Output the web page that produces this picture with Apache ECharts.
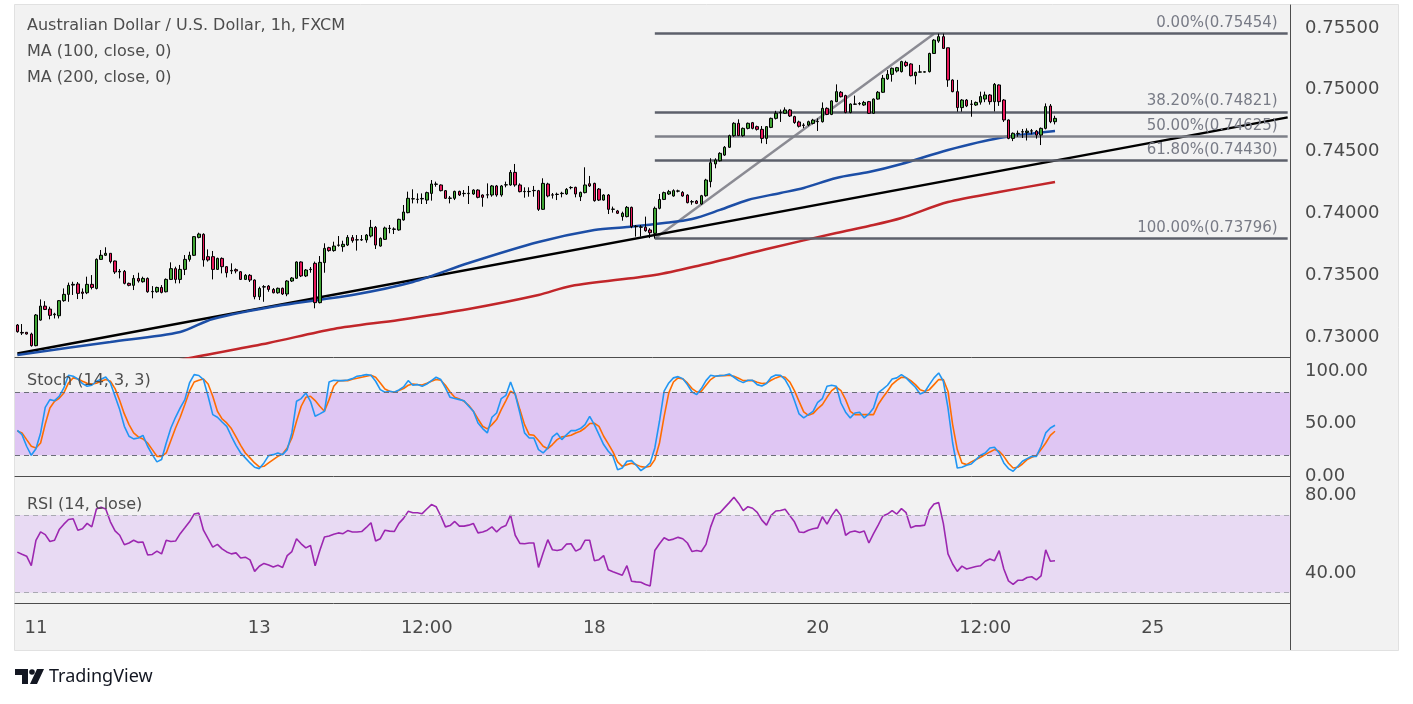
<!DOCTYPE html>
<html>
<head>
<meta charset="utf-8">
<script src="https://cdn.jsdelivr.net/npm/echarts@6/dist/echarts.min.js"></script>
<style>
  html, body { margin: 0; padding: 0; background: #fff; }
  #chart { width: 1413px; height: 704px; }
</style>
</head>
<body>
<div id="chart"></div>
<script>
// AUD/USD 1h candles, [open, close, low, high], one per hour slot
var candles = [
  [0.73097,0.73043,0.73035,0.73105],[0.73037,0.73032,0.73016,0.73105],[0.73038,0.73024,0.73020,0.73040],[0.73024,0.72930,0.72922,0.73035],
  [0.72930,0.73178,0.72925,0.73186],[0.73137,0.73250,0.73132,0.73304],[0.73250,0.73223,0.73218,0.73290],[0.73226,0.73175,0.73143,0.73245],
  [0.73180,0.73185,0.73150,0.73196],[0.73172,0.73294,0.73150,0.73299],[0.73294,0.73345,0.73285,0.73393],[0.73345,0.73418,0.73285,0.73440],
  [0.73420,0.73426,0.73340,0.73447],[0.73429,0.73353,0.73307,0.73445],[0.73364,0.73353,0.73307,0.73393],[0.73358,0.73426,0.73347,0.73488],
  [0.73426,0.73401,0.73385,0.73501],[0.73393,0.73628,0.73385,0.73636],[0.73628,0.73661,0.73623,0.73704],[0.73661,0.73677,0.73655,0.73726],
  [0.73677,0.73610,0.73596,0.73677],[0.73615,0.73526,0.73510,0.73618],[0.73526,0.73531,0.73474,0.73550],[0.73531,0.73434,0.73426,0.73542],
  [0.73434,0.73418,0.73410,0.73440],[0.73418,0.73474,0.73380,0.73501],[0.73474,0.73453,0.73440,0.73520],[0.73447,0.73474,0.73440,0.73488],
  [0.73474,0.73366,0.73358,0.73482],[0.73366,0.73369,0.73313,0.73412],[0.73366,0.73401,0.73358,0.73407],[0.73401,0.73361,0.73353,0.73420],
  [0.73366,0.73466,0.73361,0.73474],[0.73466,0.73553,0.73461,0.73604],[0.73553,0.73466,0.73434,0.73569],[0.73466,0.73547,0.73434,0.73583],
  [0.73547,0.73628,0.73501,0.73663],[0.73628,0.73661,0.73610,0.73690],[0.73661,0.73812,0.73655,0.73817],[0.73806,0.73833,0.73798,0.73844],
  [0.73831,0.73623,0.73569,0.73839],[0.73650,0.73623,0.73610,0.73709],[0.73650,0.73547,0.73466,0.73696],[0.73547,0.73636,0.73542,0.73642],
  [0.73636,0.73569,0.73515,0.73644],[0.73569,0.73520,0.73482,0.73574],[0.73534,0.73539,0.73509,0.73596],[0.73545,0.73534,0.73515,0.73555],
  [0.73528,0.73466,0.73461,0.73534],[0.73466,0.73499,0.73461,0.73509],[0.73499,0.73461,0.73445,0.73509],[0.73461,0.73326,0.73305,0.73466],
  [0.73326,0.73393,0.73299,0.73407],[0.73404,0.73407,0.73285,0.73420],[0.73412,0.73385,0.73366,0.73420],[0.73385,0.73358,0.73353,0.73396],
  [0.73358,0.73394,0.73350,0.73400],[0.73394,0.73348,0.73340,0.73400],[0.73348,0.73453,0.73330,0.73460],[0.73453,0.73477,0.73445,0.73485],
  [0.73475,0.73607,0.73470,0.73612],[0.73607,0.73494,0.73485,0.73612],[0.73494,0.73542,0.73485,0.73550],[0.73545,0.73548,0.73520,0.73566],
  [0.73596,0.73278,0.73232,0.73610],[0.73278,0.73604,0.73272,0.73655],[0.73602,0.73717,0.73520,0.73758],[0.73723,0.73699,0.73690,0.73730],
  [0.73699,0.73736,0.73690,0.73771],[0.73742,0.73744,0.73731,0.73817],[0.73731,0.73750,0.73690,0.73779],[0.73744,0.73806,0.73736,0.73825],
  [0.73804,0.73779,0.73763,0.73825],[0.73785,0.73787,0.73699,0.73825],[0.73785,0.73788,0.73777,0.73825],[0.73785,0.73825,0.73763,0.73833],
  [0.73817,0.73887,0.73806,0.73947],[0.73887,0.73744,0.73712,0.73898],[0.73736,0.73798,0.73731,0.73806],[0.73790,0.73882,0.73785,0.73893],
  [0.73878,0.73880,0.73839,0.73906],[0.73871,0.73874,0.73833,0.73887],[0.73866,0.73952,0.73860,0.73957],[0.73947,0.74011,0.73941,0.74068],
  [0.74006,0.74122,0.74001,0.74176],[0.74117,0.74119,0.74081,0.74195],[0.74113,0.74115,0.74081,0.74162],[0.74117,0.74121,0.74076,0.74162],
  [0.74108,0.74168,0.74076,0.74176],[0.74162,0.74238,0.74103,0.74270],[0.74235,0.74238,0.74216,0.74257],[0.74230,0.74184,0.74178,0.74235],
  [0.74184,0.74122,0.74117,0.74189],[0.74122,0.74124,0.74081,0.74141],[0.74122,0.74178,0.74108,0.74184],[0.74178,0.74149,0.74141,0.74184],
  [0.74160,0.74162,0.74135,0.74189],[0.74160,0.74163,0.74076,0.74222],[0.74157,0.74189,0.74150,0.74195],[0.74189,0.74130,0.74122,0.74195],
  [0.74149,0.74130,0.74054,0.74154],[0.74149,0.74151,0.74122,0.74243],[0.74149,0.74222,0.74135,0.74230],[0.74222,0.74149,0.74135,0.74230],
  [0.74149,0.74222,0.74135,0.74230],[0.74230,0.74232,0.74211,0.74257],[0.74230,0.74332,0.74224,0.74351],[0.74332,0.74230,0.74216,0.74400],
  [0.74230,0.74176,0.74170,0.74243],[0.74176,0.74178,0.74127,0.74211],[0.74176,0.74178,0.74135,0.74211],[0.74184,0.74186,0.74135,0.74222],
  [0.74184,0.74033,0.74020,0.74190],[0.74033,0.74243,0.74028,0.74284],[0.74238,0.74141,0.74130,0.74248],[0.74150,0.74148,0.74120,0.74165],
  [0.74155,0.74153,0.74108,0.74168],[0.74160,0.74163,0.74130,0.74175],[0.74157,0.74195,0.74150,0.74205],[0.74208,0.74210,0.74195,0.74220],
  [0.74211,0.74157,0.74130,0.74216],[0.74135,0.74170,0.74100,0.74176],[0.74168,0.74230,0.74162,0.74373],[0.74240,0.74222,0.74214,0.74303],
  [0.74243,0.74103,0.74095,0.74248],[0.74197,0.74108,0.74100,0.74205],[0.74108,0.74149,0.74103,0.74155],[0.74149,0.74033,0.73995,0.74157],
  [0.74033,0.74035,0.74006,0.74055],[0.74020,0.74001,0.73995,0.74028],[0.73974,0.74001,0.73941,0.74014],[0.73974,0.74049,0.73968,0.74060],
  [0.74049,0.73893,0.73880,0.74055],[0.73893,0.73896,0.73812,0.73906],[0.73888,0.73890,0.73812,0.73906],[0.73888,0.73860,0.73852,0.73974],
  [0.73866,0.73844,0.73800,0.73880],[0.73839,0.74041,0.73796,0.74055],[0.74041,0.74113,0.74033,0.74157],[0.74113,0.74168,0.74108,0.74176],
  [0.74157,0.74176,0.74150,0.74190],[0.74141,0.74184,0.74135,0.74195],[0.74180,0.74182,0.74170,0.74192],[0.74170,0.74141,0.74135,0.74180],
  [0.74148,0.74087,0.74081,0.74155],[0.74093,0.74095,0.74070,0.74108],[0.74100,0.74081,0.74075,0.74108],[0.74076,0.74143,0.74070,0.74150],
  [0.74143,0.74270,0.74135,0.74280],[0.74257,0.74410,0.74211,0.74446],[0.74400,0.74432,0.74365,0.74446],[0.74426,0.74486,0.74420,0.74495],
  [0.74472,0.74535,0.74465,0.74545],[0.74535,0.74629,0.74530,0.74637],[0.74629,0.74729,0.74620,0.74738],[0.74729,0.74629,0.74626,0.74761],
  [0.74629,0.74688,0.74620,0.74695],[0.74688,0.74729,0.74680,0.74735],[0.74734,0.74688,0.74680,0.74740],[0.74702,0.74680,0.74670,0.74710],
  [0.74680,0.74607,0.74567,0.74707],[0.74607,0.74702,0.74561,0.74707],[0.74696,0.74769,0.74690,0.74775],[0.74769,0.74810,0.74760,0.74830],
  [0.74815,0.74818,0.74740,0.74840],[0.74810,0.74837,0.74805,0.74858],[0.74837,0.74788,0.74780,0.74845],[0.74783,0.74735,0.74725,0.74790],
  [0.74740,0.74705,0.74695,0.74750],[0.74715,0.74712,0.74690,0.74730],[0.74715,0.74742,0.74705,0.74750],[0.74728,0.74755,0.74720,0.74765],
  [0.74742,0.74745,0.74667,0.74769],[0.74742,0.74850,0.74735,0.74898],[0.74850,0.74801,0.74795,0.74858],[0.74801,0.74910,0.74795,0.74915],
  [0.74904,0.74985,0.74900,0.75044],[0.74980,0.74944,0.74938,0.74990],[0.74953,0.74817,0.74810,0.74960],[0.74817,0.74885,0.74810,0.74890],
  [0.74883,0.74885,0.74877,0.74953],[0.74887,0.74889,0.74875,0.74900],[0.74877,0.74898,0.74870,0.74910],[0.74904,0.74810,0.74805,0.74910],
  [0.74810,0.74925,0.74805,0.74930],[0.74925,0.74980,0.74920,0.74990],[0.74980,0.75093,0.74975,0.75120],[0.75088,0.75125,0.75080,0.75160],
  [0.75125,0.75174,0.75066,0.75180],[0.75152,0.75179,0.75140,0.75185],[0.75147,0.75228,0.75140,0.75235],[0.75222,0.75195,0.75185,0.75235],
  [0.75209,0.75114,0.75108,0.75215],[0.75114,0.75141,0.75044,0.75147],[0.75143,0.75145,0.75140,0.75201],[0.75143,0.75146,0.75140,0.75150],
  [0.75147,0.75294,0.75140,0.75300],[0.75294,0.75402,0.75290,0.75410],[0.75394,0.75430,0.75380,0.75454],[0.75430,0.75335,0.75330,0.75454],
  [0.75340,0.75079,0.75024,0.75340],[0.75079,0.74985,0.74980,0.75085],[0.74985,0.74856,0.74823,0.75080],[0.74856,0.74917,0.74823,0.74925],
  [0.74917,0.74870,0.74860,0.74925],[0.74884,0.74882,0.74782,0.74917],[0.74877,0.74898,0.74870,0.74905],[0.74900,0.74945,0.74880,0.74985],
  [0.74925,0.74958,0.74900,0.74985],[0.74958,0.74904,0.74880,0.74965],[0.74904,0.75044,0.74825,0.75055],[0.75039,0.74904,0.74870,0.75044],
  [0.74917,0.74756,0.74740,0.74925],[0.74756,0.74607,0.74600,0.74760],[0.74607,0.74648,0.74585,0.74655],[0.74645,0.74648,0.74620,0.74670],
  [0.74658,0.74661,0.74610,0.74683],[0.74655,0.74666,0.74590,0.74688],[0.74666,0.74668,0.74640,0.74683],[0.74666,0.74634,0.74605,0.74675],
  [0.74634,0.74688,0.74553,0.74695],[0.74688,0.74864,0.74680,0.74890],[0.74869,0.74742,0.74730,0.74885],[0.74742,0.74769,0.74720,0.74790]
];

// MA (100) and MA (200) read at points along the curves
var ma100Idx = [0, 20, 35, 42, 57, 72, 85, 97, 112, 124, 131, 139, 145, 151, 157, 164, 169, 176, 183, 190, 200, 211, 223];
var ma100Val = [0.72855, 0.72960, 0.73041, 0.73146, 0.73259, 0.73340, 0.73445, 0.73599, 0.73769, 0.73866, 0.73890, 0.73922,
                0.73955, 0.74028, 0.74109, 0.74165, 0.74206, 0.74287, 0.74335, 0.74400, 0.74513, 0.74610, 0.74667];
var ma200Idx = [30, 36, 54, 68, 82, 97, 112, 119, 137, 147, 162, 176, 183, 190, 200, 211, 223];
var ma200Val = [0.72766, 0.72822, 0.72952, 0.73065, 0.73138, 0.73227, 0.73340, 0.73413, 0.73502, 0.73583, 0.73720,
                0.73842, 0.73898, 0.73963, 0.74092, 0.74173, 0.74254];

// drawn trend line and fib retracement
var trendIdx = [0, 273];
var trendVal = [0.72867, 0.74777];
var fibIdx = [137, 197];
var fibVal = [0.73796, 0.75454];
var fibPct = ['0.00%', '38.20%', '50.00%', '61.80%', '100.00%'];
var fibLevels = [0.75454, 0.74821, 0.74625, 0.74430, 0.73796];

// Stoch (14, 3, 3)
var stochK = [
  43.8,39.7,28.6,20,26.3,41.3,65.7,73,72,76.2, 84.1,96.2,95.2,92.7,88.3,85.7,86.7,90.5,92.4,94.6,
  88.9,76.2,63.5,47.6,38.1,35.6,36.5,39,28.6,20.6, 13.7,15.9,31.7,46,56.2,65.1,73,88.9,96.8,96,
  92.1,76.2,58.7,56.2,51.7,47.6,38.1,29.5,22.2,17.5, 12.7,8.6,7.3,12.7,19.7,20.6,22.2,20.6,25.4,41.3,
  71.4,74,79.4,71.4,57.1,59.4,61.9,89.8,91.4,91.1, 91.1,91.7,93,95.2,95.9,96.8,96.2,90.5,82.5,80,
  81,80,82.2,85.1,91.1,86.7,87.3,85.7,87.9,91.1, 94.3,92.1,84.1,75.2,74,73,72,66.7,61.9,50.8,
  45.4,41.3,56.2,60.3,74,77.1,89.8,77.8,60.3,41.3, 36.5,36.5,25.4,22.2,27,37.5,41,34.9,39.4,43.5,
  43.5,45.4,49.2,57.1,49.2,39.7,30.2,23.8,19,6.3, 7.9,14.3,14.9,10.5,5.4,8.6,12.7,27,52.4,81,
  88.9,93.7,94.9,93,87.3,80.3,77.8,83.5,91.1,96.2, 95.2,95.9,96.2,97.5,94.3,91.1,89.2,91.4,91.4,87.3,
  86,88.3,94.3,96.5,96.2,92.1,84.1,72.1,59.4,55.6, 58.7,61.9,70.5,74,85.7,86.7,85.7,69.8,61,55.6,
  60.3,61,55.6,59.4,65.1,79.4,83,86.7,92.7,93.7, 96.8,93.7,89.2,84.8,78.4,80.3,87.3,93.7,98.4,90.5,
  65.1,31.7,7.9,8.6,10.5,11.7,15.9,20,22.2,27, 27.6,22.2,12.7,7.3,4.8,9.5,14.3,16.8,19,19,
  28.6,41.3,46,48.6
];
var stochD = [
  43.2,41.3,34.9,28.6,27,31.7,49.8,65.1,71.4,74.3, 79.4,88.9,93.7,92.7,90.5,88.6,87.9,88.6,90.5,92.1,
  90.5,83.5,72.1,59.4,49.2,41.3,37.5,35.6,31.7,25.4, 19,19,22.2,34,46,56.2,68.3,81,89.8,91.5,
  92.7,87.9,76.2,61.9,54.6,50.8,45.4,37.5,29.5,22.2, 17.5,12.7,8.9,9.5,12.7,15.9,19,21.3,27,36.5,
  52.4,66.7,75.2,76.2,72.1,66.7,61.9,73,85.7,90.8, 91.1,91.1,92.4,93.3,94.3,95.2,96.2,94.3,88.9,83.2,
  81,80,81.6,83.5,86.7,87.9,87.3,87,88.6,90.5, 92.1,91.4,86.7,80.3,75.2,73.7,71.4,67.6,61.9,54.6,
  47.6,45.1,49.2,54,63.5,72.1,81,78.4,63.5,49.2, 39.7,39,34,28.6,26.3,30.2,34.9,37.5,38.1,39,
  41.3,42.9,46,50.2,50.5,47.6,38.1,30.8,23.2,13.7, 9.5,11.1,12.4,11.1,9.2,8.6,9.5,15.9,31.7,57.1,
  79.4,89.8,93.7,92.7,88.9,83.5,80.3,81,86.7,92.1, 95.2,95.9,95.9,96.2,95.2,93.3,91.1,91.1,91.1,89.5,
  88.3,88.9,91.4,93.7,95.2,94.3,89.8,81.6,71.4,61.3, 58.1,59.7,64.4,68.3,75.2,81.6,84.8,81.6,73,61.9,
  58.7,58.7,58.7,58.7,58.7,68.3,75,81,87.6,91.4, 94.3,94,91.1,87.3,82.5,81,82.5,87.3,92.1,92.1,
  81,49.2,25.4,12.7,11.1,13.7,15.9,18.1,20.6,23.2, 25.4,23.8,19,12.4,7.9,8.6,11.7,15.9,18.1,19.7,
  25.4,31.7,39,42.9
];

// RSI (14, close)
var rsi = [
  50.9,49.8,48.8,43.9,57,61.3,59.9,56.4,57,62.5, 65.3,67.7,68.1,62.2,62.9,65.7,63.9,73.1,74,73.1,
  66.5,61.8,59.6,54.7,55.6,57,55.9,56.1,49.5,49.7, 51.4,50,57,56.4,56.6,60.4,63.4,66.5,70.5,71,
  62.2,57.8,53.5,54.9,52.6,51,50,50.5,47.9,48.3, 46.9,41,43.6,45.1,44.3,43.2,44.1,43,49.1,51.2,
  57.8,55.2,53.1,54.3,43.9,51.7,58.7,59.2,60.1,60.8, 60.4,62,61.3,61.3,61.5,63.6,66,56.6,57.8,62.2,
  61.7,61.5,65.7,68.3,71.9,71.2,71.2,70.7,73.1,75.4, 74.3,69.5,63.9,64.6,66.7,64.3,64.3,64.8,65.7,60.8,
  61.3,62.2,63.9,61.3,63.6,64.6,70,59.6,55.4,55.2, 55.6,55.6,43,50.5,57.3,52.1,51.7,52.3,55,55.2,
  51.4,52.6,57,57,46.5,47,49.1,41.8,40.8,39.9, 39,43.9,35.9,35.6,35.4,34.2,33.5,51.7,55.2,58.3,
  57,57.6,58.5,57.8,55.6,51.2,51.7,51.2,54.9,63.9, 70.3,71.2,73.8,76.4,79.2,76.1,72.3,74.3,73.5,71.4,
  67.4,64.8,69.8,72.1,72.3,73,69.7,66.5,61.3,61, 62.2,62.9,63.4,69.1,65.3,69.7,73,69.7,59.6,61.3,
  61.8,61,61.8,55.6,60.4,64.8,69.5,70.5,72.3,70.5, 73.3,71.2,63.4,64.4,64.4,64.8,72.6,75.7,76.4,65.7,
  50,44.8,41,43.7,42.2,42.9,43.5,43.9,46.2,47.4, 46.5,51.7,42.2,36.1,34.3,36.4,36.4,37.8,38.2,36.6,
  38.7,52.1,46.2,46.5
];

// time axis
var slotCount = 274;
var tickIdx = [4, 52, 88, 124, 172, 208, 244];
var tickText = ['11', '13', '12:00', '18', '20', '12:00', '25'];
var priceTicks = [0.730, 0.735, 0.740, 0.745, 0.750, 0.755];
var stochTicks = [0, 50, 100];
var rsiTicks = [40, 80];

var FONT = 'DejaVu Sans';
var AXIS_COL = '#4d4d4d';
var LABEL_COL = '#4a4a4a';
var LEGEND_FONT = '16px "DejaVu Sans"';

var cats = [];
for (var i = 0; i < slotCount; i++) cats.push(String(i));

function pairs(idx, val) {
  return idx.map(function (x, j) { return [x, val[j]]; });
}

function makeX(gi) {
  return {
    type: 'category', gridIndex: gi, data: cats, boundaryGap: true,
    axisLine: { show: true, lineStyle: { color: AXIS_COL, width: 1 } },
    axisTick: { show: false },
    splitLine: { show: false },
    axisLabel: {
      show: gi === 2,
      interval: function (index) { return tickIdx.indexOf(index) >= 0; },
      formatter: function (v, index) { var p = tickIdx.indexOf(index); return p >= 0 ? tickText[p] : ''; },
      color: LABEL_COL, fontSize: 18, fontFamily: FONT, margin: 16
    }
  };
}

function makeY(gi, min, max, ticks, digits) {
  return {
    type: 'value', gridIndex: gi, position: 'right', min: min, max: max, scale: true,
    axisLine: { show: true, lineStyle: { color: AXIS_COL, width: 1 } },
    axisTick: { show: false },
    splitLine: { show: false },
    axisLabel: {
      customValues: ticks,
      formatter: function (v) { return v.toFixed(digits); },
      color: LABEL_COL, fontSize: 18, fontFamily: FONT, margin: 15
    }
  };
}

var chart = echarts.init(document.getElementById('chart'), null, { renderer: 'canvas' });

var option = {
  backgroundColor: '#ffffff',
  animation: false,
  grid: [
    { left: 15, right: 123, top: 5, height: 352 },
    { left: 15, right: 123, top: 357, height: 126 },
    { left: 15, right: 123, top: 483, height: 120 }
  ],
  xAxis: [makeX(0), makeX(1), makeX(2)],
  yAxis: [
    makeY(0, 0.728382, 0.756861, priceTicks, 5),
    makeY(1, -6.4, 113.6, stochTicks, 2),
    makeY(2, 24.7, 86.5, rsiTicks, 2)
  ],
  graphic: [
    { type: 'rect', z: -100, silent: true, shape: { x: 14.5, y: 4.5, width: 1384, height: 646 },
      style: { fill: '#f2f2f2', stroke: '#e1e1e1', lineWidth: 1 } },
    { type: 'line', silent: true, shape: { x1: 1290.5, y1: 603, x2: 1290.5, y2: 650 },
      style: { stroke: AXIS_COL, lineWidth: 1 } },
    { type: 'text', left: 27, top: 18, silent: true,
      style: { text: 'Australian Dollar / U.S. Dollar, 1h, FXCM', fill: '#4d4d4d', font: LEGEND_FONT } },
    { type: 'text', left: 27, top: 44, silent: true,
      style: { text: 'MA (100, close, 0)', fill: '#4d4d4d', font: LEGEND_FONT } },
    { type: 'text', left: 27, top: 70, silent: true,
      style: { text: 'MA (200, close, 0)', fill: '#4d4d4d', font: LEGEND_FONT } },
    { type: 'text', left: 27, top: 373, z: 50, silent: true,
      style: { text: 'Stoch (14, 3, 3)', fill: '#4d4d4d', font: LEGEND_FONT } },
    { type: 'text', left: 27, top: 497, z: 50, silent: true,
      style: { text: 'RSI (14, close)', fill: '#4d4d4d', font: LEGEND_FONT } },
    // TradingView mark
    { type: 'polygon', silent: true, shape: { points: [[15, 669], [28, 669], [28, 684], [22, 684], [22, 675], [15, 675]] },
      style: { fill: '#131722' } },
    { type: 'circle', silent: true, shape: { cx: 32, cy: 672, r: 2.8 }, style: { fill: '#131722' } },
    { type: 'polygon', silent: true, shape: { points: [[37, 669], [44, 669], [37, 684], [30, 684]] },
      style: { fill: '#131722' } },
    { type: 'text', left: 49, top: 668, silent: true,
      style: { text: 'TradingView', fill: '#131722', font: '18px "Noto Sans"' } }
  ],
  series: [
    {
      name: 'fib', type: 'line', xAxisIndex: 0, yAxisIndex: 0, z: 1,
      data: pairs(fibIdx, fibVal), symbol: 'none', silent: true,
      lineStyle: { color: '#8b8b93', width: 2.5 },
      markLine: {
        silent: true, symbol: 'none', animation: false,
        lineStyle: { type: 'solid', width: 2.5, color: '#5d606b' },
        label: {
          show: true, position: 'insideEndTop', formatter: '{b}', distance: [10, 3],
          color: '#787b86', fontSize: 15, fontFamily: FONT
        },
        data: fibLevels.map(function (v, j) {
          return [
            { name: fibPct[j] + '(' + v.toFixed(5) + ')', coord: [fibIdx[0], v],
              lineStyle: { color: j === 2 ? '#7e8089' : '#5d606b' } },
            { coord: [slotCount - 1, v] }
          ];
        })
      }
    },
    {
      name: 'trend', type: 'line', xAxisIndex: 0, yAxisIndex: 0, z: 2,
      data: pairs(trendIdx, trendVal), symbol: 'none', silent: true,
      lineStyle: { color: '#000000', width: 2.5 }
    },
    {
      name: 'MA200', type: 'line', xAxisIndex: 0, yAxisIndex: 0, z: 3,
      data: pairs(ma200Idx, ma200Val), symbol: 'none', smooth: 0.3, silent: true,
      lineStyle: { color: '#c1262a', width: 2.5 }
    },
    {
      name: 'MA100', type: 'line', xAxisIndex: 0, yAxisIndex: 0, z: 3,
      data: pairs(ma100Idx, ma100Val), symbol: 'none', smooth: 0.3, silent: true,
      lineStyle: { color: '#1c4ea6', width: 2.5 }
    },
    {
      name: 'AUDUSD', type: 'candlestick', xAxisIndex: 0, yAxisIndex: 0, z: 5,
      data: candles, barWidth: 3,
      itemStyle: {
        color: '#3fa534', color0: '#e8185a',
        borderColor: '#000000', borderColor0: '#000000', borderWidth: 1
      }
    },
    {
      name: 'StochD', type: 'line', xAxisIndex: 1, yAxisIndex: 1, z: 3,
      data: stochD, symbol: 'none', silent: true,
      lineStyle: { color: '#ff6d00', width: 1.6 },
      markArea: {
        silent: true, itemStyle: { color: '#dfc6f3' },
        data: [[{ yAxis: 20 }, { yAxis: 80 }]]
      },
      markLine: {
        silent: true, symbol: 'none', label: { show: false },
        lineStyle: { color: '#6b6e78', type: [5, 4], width: 1 },
        data: [{ yAxis: 20 }, { yAxis: 80 }]
      }
    },
    {
      name: 'StochK', type: 'line', xAxisIndex: 1, yAxisIndex: 1, z: 4,
      data: stochK, symbol: 'none', silent: true,
      lineStyle: { color: '#2196f3', width: 1.6 }
    },
    {
      name: 'RSI', type: 'line', xAxisIndex: 2, yAxisIndex: 2, z: 4,
      data: rsi, symbol: 'none', silent: true,
      lineStyle: { color: '#9c27b0', width: 1.6 },
      markArea: {
        silent: true, itemStyle: { color: '#e8daf3' },
        data: [[{ yAxis: 30 }, { yAxis: 70 }]]
      },
      markLine: {
        silent: true, symbol: 'none', label: { show: false },
        lineStyle: { color: '#a9a9b2', type: [5, 4], width: 1 },
        data: [{ yAxis: 30 }, { yAxis: 70 }]
      }
    }
  ]
};

chart.setOption(option);
</script>
</body>
</html>
